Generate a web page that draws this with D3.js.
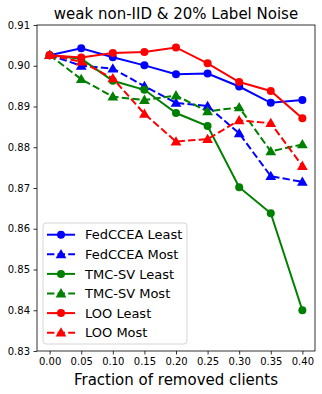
<!DOCTYPE html>
<html>
<head>
<meta charset="utf-8">
<script src="https://cdn.jsdelivr.net/npm/d3@7"></script>
<style>
  body { margin: 0; background: #fff; }
  text { font-family: "DejaVu Sans", sans-serif; fill: #000; }
</style>
</head>
<body>
<svg id="mainsvg" width="322" height="394"></svg>
<script>
const fractions = [0.00, 0.05, 0.10, 0.15, 0.20, 0.25, 0.30, 0.35, 0.40];
const fedLeast = [0.9026, 0.9043, 0.9021, 0.9001, 0.8979, 0.8981, 0.8949, 0.8909, 0.8916];
const fedMost  = [0.9026, 0.9000, 0.8993, 0.8950, 0.8909, 0.8901, 0.8834, 0.8729, 0.8715];
const tmcLeast = [0.9026, 0.9017, 0.8963, 0.8941, 0.8884, 0.8852, 0.8702, 0.8638, 0.8400];
const tmcMost  = [0.9026, 0.8967, 0.8924, 0.8916, 0.8927, 0.8888, 0.8898, 0.8790, 0.8807];
const looLeast = [0.9026, 0.9020, 0.9031, 0.9034, 0.9045, 0.9006, 0.8960, 0.8938, 0.8871];
const looMost  = [0.9026, 0.9010, 0.8969, 0.8882, 0.8814, 0.8820, 0.8866, 0.8859, 0.8754];
const yTicks = [0.83, 0.84, 0.85, 0.86, 0.87, 0.88, 0.89, 0.90, 0.91];

const series = [
  { name: 'FedCCEA Least', values: fedLeast, color: '#0000ff', dashed: false },
  { name: 'FedCCEA Most', values: fedMost, color: '#0000ff', dashed: true },
  { name: 'TMC-SV Least', values: tmcLeast, color: '#008000', dashed: false },
  { name: 'TMC-SV Most', values: tmcMost, color: '#008000', dashed: true },
  { name: 'LOO Least', values: looLeast, color: '#ff0000', dashed: false },
  { name: 'LOO Most', values: looMost, color: '#ff0000', dashed: true },
];

const svg = d3.select('#mainsvg');
const margin = { top: 25, right: 7, bottom: 43, left: 37 };
const innerWidth = 322 - margin.left - margin.right;
const innerHeight = 394 - margin.top - margin.bottom;

const xScale = d3.scaleLinear().domain([-0.02, 0.42]).range([0, innerWidth]);
const yScale = d3.scaleLinear().domain([0.83, 0.91]).range([innerHeight, 0]);

const g = svg.append('g').attr('transform', `translate(${margin.left}, ${margin.top})`);

const xAxis = d3.axisBottom(xScale).tickValues(fractions).tickFormat(d3.format('.2f')).tickSizeOuter(0).tickSize(3.5).tickPadding(3.5);
const yAxis = d3.axisLeft(yScale).tickValues(yTicks).tickFormat(d3.format('.2f')).tickSizeOuter(0).tickSize(3.5).tickPadding(3.5);

const xg = g.append('g').attr('transform', `translate(0, ${innerHeight})`).call(xAxis);
const yg = g.append('g').call(yAxis);
[xg, yg].forEach(a => {
  a.select('.domain').remove();
  a.selectAll('text').attr('font-size', 10).attr('font-family', 'DejaVu Sans').attr('fill', '#000');
  a.selectAll('line').attr('stroke', '#000').attr('stroke-width', 0.8);
});

const line = d3.line().x((d, i) => xScale(fractions[i])).y(d => yScale(d));
const tri = d3.symbol().type(d3.symbolTriangle).size(50);

series.forEach(s => {
  g.append('path')
    .datum(s.values)
    .attr('d', line)
    .attr('fill', 'none')
    .attr('stroke', s.color)
    .attr('stroke-width', 2)
    .attr('stroke-dasharray', s.dashed ? '7.4,3.2' : null);
  const marks = g.append('g').selectAll('.m').data(s.values).enter();
  if (s.dashed) {
    marks.append('path')
      .attr('d', tri)
      .attr('transform', (d, i) => `translate(${xScale(fractions[i])}, ${yScale(d) + 0.8})`)
      .attr('fill', s.color);
  } else {
    marks.append('circle')
      .attr('cx', (d, i) => xScale(fractions[i]))
      .attr('cy', d => yScale(d))
      .attr('r', 4)
      .attr('fill', s.color);
  }
});

// frame
g.append('rect')
  .attr('width', innerWidth).attr('height', innerHeight)
  .attr('fill', 'none').attr('stroke', '#000').attr('stroke-width', 0.8);

// title and x label
svg.append('text').text('weak non-IID & 20% Label Noise')
  .attr('x', margin.left + innerWidth / 2).attr('y', 19)
  .attr('text-anchor', 'middle').attr('font-size', 15);
svg.append('text').text('Fraction of removed clients')
  .attr('x', margin.left + innerWidth / 2).attr('y', 385)
  .attr('text-anchor', 'middle').attr('font-size', 15);

// legend
const lg = svg.append('g').attr('transform', 'translate(43, 223)');
lg.append('rect').attr('width', 144).attr('height', 121).attr('rx', 3)
  .attr('fill', '#fff').attr('fill-opacity', 0.8).attr('stroke', '#ccc').attr('stroke-width', 0.8);
series.forEach((s, i) => {
  const y = 11.7 + i * 19.6;
  lg.append('line').attr('x1', 4).attr('x2', 32).attr('y1', y).attr('y2', y)
    .attr('stroke', s.color).attr('stroke-width', 2)
    .attr('stroke-dasharray', s.dashed ? '7.4,3.2' : null);
  if (s.dashed) {
    lg.append('path').attr('d', tri).attr('transform', `translate(18, ${y + 0.8})`).attr('fill', s.color);
  } else {
    lg.append('circle').attr('cx', 18).attr('cy', y).attr('r', 4).attr('fill', s.color);
  }
  lg.append('text').text(s.name).attr('x', 42).attr('y', y + 4.7).attr('font-size', 13);
});
</script>
</body>
</html>
